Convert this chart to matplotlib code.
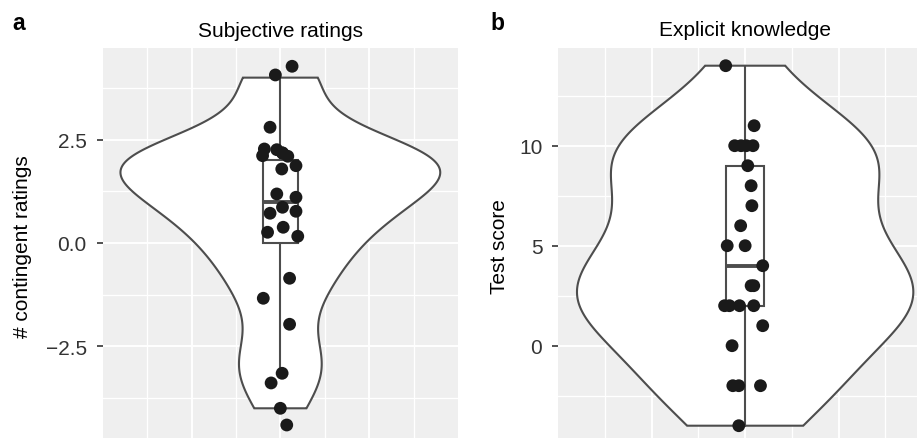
import numpy as np
import matplotlib.pyplot as plt
from matplotlib.patches import Rectangle, Polygon

plt.rcParams['font.family'] = ['Liberation Sans', 'DejaVu Sans']

# ---- panel a: subjective ratings (values, and the jitter offsets they are drawn with)
ratings = [4, 4, 3, 2, 2, 2, 2, 2, 2, 2, 2, 1, 1, 1, 1, 1, 0, 0, 0, -1, -1, -2, -3, -3, -4]
ratings_jx = [0.033, -0.014, -0.029, -0.045, -0.050, -0.010, 0.006, 0.021, 0.044, 0.004,
              0.006, -0.010, 0.044, 0.006, -0.029, 0.044, 0.008, -0.036, 0.049, 0.026,
              -0.048, 0.026, 0.005, -0.026, 0.018]
ratings_jy = [0.275, 0.065, -0.20, 0.274, 0.112, 0.257, 0.178, 0.098, -0.13, -0.21,
              0.178, 0.186, 0.106, -0.136, -0.281, -0.233, 0.38, 0.259, 0.162, 0.146,
              -0.338, 0.033, -0.153, -0.387, -0.404]

# ---- panel b: explicit knowledge test score
scores = [14, 11, 10, 10, 10, 10, 9, 8, 7, 6, 5, 5, 4, 3, 3, 2, 2, 2, 2, 1, 0, -2, -2, -2, -4]
scores_jx = [-0.052, 0.024, -0.028, -0.011, 0.003, 0.021, 0.007, 0.016, 0.018, -0.012,
             -0.048, 0.0, 0.047, 0.016, 0.023, -0.055, -0.042, -0.015, 0.023, 0.047,
             -0.035, -0.033, -0.017, 0.041, -0.017]
scores_jy = [0] * len(scores)

W, H = 917, 439
fig = plt.figure(figsize=(W / 100, H / 100), dpi=100)

LINE = '#4d4d4d'
PANEL = '#efefef'
LW = 1.5


def kde(vals, grid):
    vals = np.asarray(vals, float)
    q75, q25 = np.percentile(vals, [75, 25])
    bw = 0.9 * min(vals.std(ddof=1), (q75 - q25) / 1.34) * len(vals) ** -0.2
    return np.exp(-0.5 * ((grid[:, None] - vals[None, :]) / bw) ** 2).sum(axis=1)


def px_axes(l, t, r, b):
    return fig.add_axes([l / W, 1 - b / H, (r - l) / W, (b - t) / H])


def draw_panel(ax, vals, jx, jy, ylim, major, minor):
    ax.set_facecolor(PANEL)
    ax.set_xlim(0.5, 1.5)
    ax.set_ylim(*ylim)
    ax.set_xticks([0.75, 1.0, 1.25])
    ax.set_xticks([0.625, 0.875, 1.125, 1.375], minor=True)
    ax.set_yticks(major)
    ax.set_yticks(minor, minor=True)
    ax.grid(which='major', color='white', lw=1.4)
    ax.grid(which='minor', color='white', lw=0.9)
    ax.set_axisbelow(True)
    for s in ax.spines.values():
        s.set_visible(False)
    ax.tick_params(axis='x', which='both', length=0, labelbottom=False)
    ax.tick_params(axis='y', which='major', length=4, width=1.2, color='#333333',
                   pad=7.5, labelsize=15, labelcolor='#333333')
    ax.tick_params(axis='y', which='minor', length=0)

    v = np.asarray(vals, float)

    # violin (trimmed to data range, max width 0.9)
    grid = np.linspace(v.min(), v.max(), 512)
    d = kde(v, grid)
    half = d / d.max() * 0.45
    xs = np.concatenate([1 - half, (1 + half)[::-1]])
    ys = np.concatenate([grid, grid[::-1]])
    ax.add_patch(Polygon(np.column_stack([xs, ys]), closed=True, facecolor='white',
                         edgecolor=LINE, lw=LW, zorder=2))

    # boxplot, width 0.1, whiskers at 1.5 IQR
    q1, med, q3 = np.percentile(v, [25, 50, 75])
    iqr = q3 - q1
    lo = v[v >= q1 - 1.5 * iqr].min()
    hi = v[v <= q3 + 1.5 * iqr].max()
    out = v[(v < lo) | (v > hi)]
    ax.plot([1, 1], [q3, hi], color=LINE, lw=LW, zorder=3)
    ax.plot([1, 1], [lo, q1], color=LINE, lw=LW, zorder=3)
    ax.add_patch(Rectangle((0.95, q1), 0.1, q3 - q1, facecolor='white',
                           edgecolor=LINE, lw=LW, zorder=3))
    ax.plot([0.95, 1.05], [med, med], color=LINE, lw=2.8, solid_capstyle='butt', zorder=4)
    ax.scatter(np.ones(len(out)), out, s=85, color='#1a1a1a', edgecolors='none', zorder=5)

    # jittered points
    ax.scatter(1 + np.asarray(jx), v + np.asarray(jy), s=85, color='#1a1a1a',
               edgecolors='none', zorder=5)


ax_a = px_axes(102.7, 49.3, 458, 443.6)
draw_panel(ax_a, ratings, ratings_jx, ratings_jy, (-4.83, 4.71),
           [-2.5, 0, 2.5], [-3.75, -1.25, 1.25, 3.75])
ax_a.set_yticklabels(['\u22122.5', '0.0', '2.5'])

ax_b = px_axes(558.3, 49.3, 932, 444.7)
draw_panel(ax_b, scores, scores_jx, scores_jy, (-4.9, 14.87),
           [0, 5, 10], [-2.5, 2.5, 7.5, 12.5])

fig.text(280.5 / W, 1 - 36.7 / H, 'Subjective ratings', ha='center', va='baseline', fontsize=15)
fig.text(745 / W, 1 - 36 / H, 'Explicit knowledge', ha='center', va='baseline', fontsize=15)
fig.text(12.7 / W, 1 - 30 / H, 'a', ha='left', va='baseline', fontsize=16.5, fontweight='bold')
fig.text(490.7 / W, 1 - 30 / H, 'b', ha='left', va='baseline', fontsize=16.5, fontweight='bold')
fig.text(22.3 / W, 1 - 246.5 / H, '# contingent ratings', rotation=90, ha='center',
         va='center', fontsize=15)
fig.text(499.7 / W, 1 - 246.7 / H, 'Test score', rotation=90, ha='center',
         va='center', fontsize=15)

fig.savefig('out.png', dpi=100)
